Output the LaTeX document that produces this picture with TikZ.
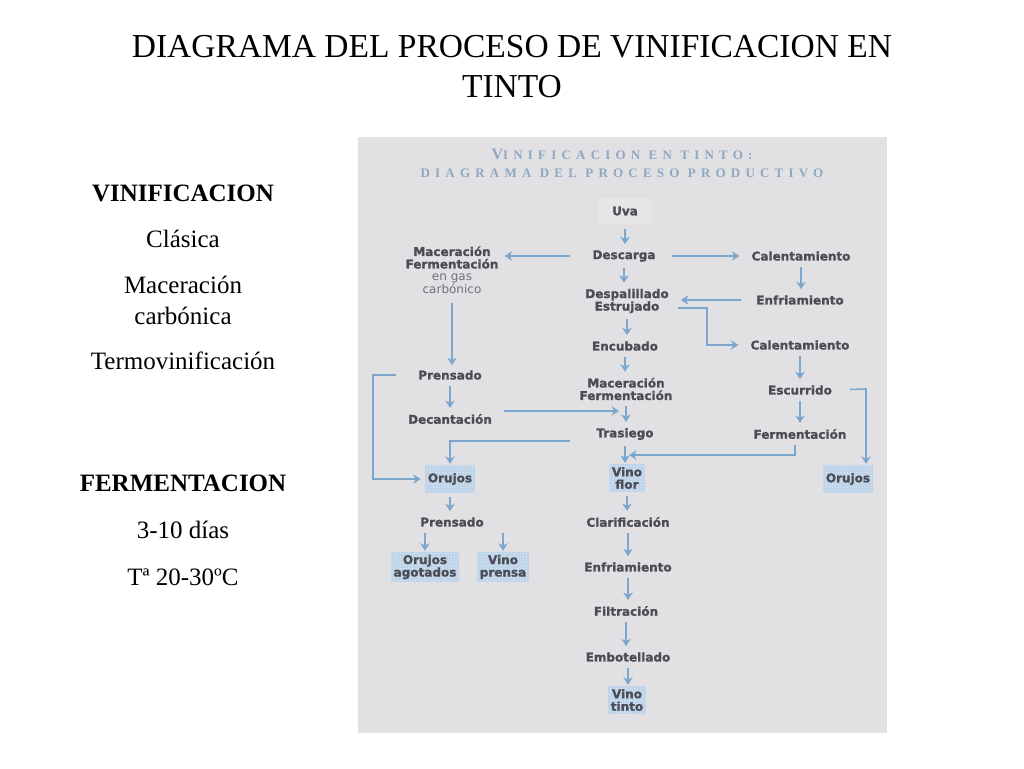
\documentclass[tikz,border=0pt]{standalone}
\usepackage{fontspec}
\setmainfont{Liberation Serif}
\newfontfamily\diagfont[BoldFeatures={FakeBold=1.3}]{DejaVu Sans}
\newfontfamily\panelfont[LetterSpace=40]{Liberation Serif}
\usepackage{tikz}
\usetikzlibrary{arrows.meta,positioning,calc,patterns}
\definecolor{panelgris}{HTML}{E1E1E3}
\definecolor{flechaazul}{HTML}{7BA7CF}
\definecolor{textogris}{HTML}{4C4C56}
\definecolor{suavegris}{HTML}{70707C}
\definecolor{cajaazul}{HTML}{BCD3E8}
\definecolor{titazul}{HTML}{8EA7C2}

\begin{document}
\begin{tikzpicture}[x=1pt,y=-1pt,
  proc/.style={font=\diagfont\bfseries\fontsize{12}{12.5}\selectfont, text=textogris, align=center, inner sep=2pt},
  caja/.style={proc, preaction={fill=cajaazul}, pattern=crosshatch dots, pattern color=white!55!cajaazul, inner sep=3pt, minimum height=28pt},
  izq/.style={font=\fontsize{25}{31}\selectfont, align=center, inner sep=0pt},
  flecha/.style={-{Stealth[length=7.5pt,width=9.5pt]}, draw=flechaazul, line width=1.6pt, shorten >=4pt, shorten <=4pt}]
  \fill[white] (0,0) rectangle (1024,768);
  \fill[panelgris] (358,137) rectangle (887,733);

  \node[font=\fontsize{33.5}{40}\selectfont, align=center] (titulo) at (512,67) {DIAGRAMA DEL PROCESO DE VINIFICACION EN\\TINTO};

  \node[izq, font=\fontsize{25}{31}\selectfont\bfseries] (vini) at (183,193) {VINIFICACION};
  \node[izq] (clasica) at (183,239) {Clásica};
  \node[izq] (maccarbo) at (183,300) {Maceración\\carbónica};
  \node[izq] (termo) at (183,361) {Termovinificación};
  \node[izq, font=\fontsize{25}{31}\selectfont\bfseries] (fermtit) at (183,483) {FERMENTACION};
  \node[izq] (dias) at (183,530) {3-10 días};
  \node[izq] (temp) at (183,577) {Tª 20-30ºC};

  \node[font=\panelfont\bfseries\fontsize{13}{13}\selectfont, text=titazul] (panel1) at (622,154) {{\fontsize{16}{16}\selectfont V}INIFICACION EN TINTO:};
  \node[font=\panelfont\bfseries\fontsize{13}{13}\selectfont, text=titazul] (panel2) at (622,173) {DIAGRAMA DEL PROCESO PRODUCTIVO};

  \node[caja, preaction={fill=white!12!panelgris}, pattern color=white!35!panelgris, minimum width=54pt, minimum height=27pt] (uva) at (625,211) {Uva};
  \node[proc] (descarga) at (624,256) {Descarga};
  \node[proc] (despal) at (627,301) {Despalillado\\Estrujado};
  \node[proc] (encub) at (625,346) {Encubado};
  \node[proc] (macferm) at (626,389) {Maceración\\Fermentación};
  \node[proc] (trasiego) at (625,434) {Trasiego};
  \node[caja] (vinoflor) at (627,478) {Vino\\flor};
  \node[proc] (clarif) at (628,522) {Clarificación};
  \node[proc] (enfr2) at (628,567) {Enfriamiento};
  \node[proc] (filtr) at (626,611) {Filtración};
  \node[proc] (embot) at (628,657) {Embotellado};
  \node[caja] (vinotinto) at (627,700) {Vino\\tinto};

  \node[proc] (maccarb) at (452,270) {Maceración\\Fermentación\\{\mdseries\color{suavegris}en gas}\\{\mdseries\color{suavegris}carbónico}};
  \node[proc] (prens1) at (450,375) {Prensado};
  \node[proc] (decant) at (450,419) {Decantación};
  \node[caja] (orujos1) at (450,479) {Orujos};
  \node[proc] (prens2) at (452,522) {Prensado};
  \node[caja] (orujosag) at (425,567) {Orujos\\agotados};
  \node[caja] (vinoprensa) at (503,567) {Vino\\prensa};

  \node[proc] (calent1) at (801,256) {Calentamiento};
  \node[proc] (enfr1) at (800,300) {Enfriamiento};
  \node[proc] (calent2) at (800,345) {Calentamiento};
  \node[proc] (escurr) at (800,390) {Escurrido};
  \node[proc] (fermen) at (800,434) {Fermentación};
  \node[caja] (orujos2) at (848,479) {Orujos};

  \coordinate (codo1) at (707,345);
  \coordinate (esqB) at (373,479);
  \coordinate (unionA) at (619,411);
  \coordinate (esqC) at (866,389);
  \coordinate (esqD) at (795,455);

  \draw[flecha] (uva.south) -- (uva.south |- descarga.north);
  \draw[flecha, shorten <=20pt] (descarga.west) -- (descarga.west -| maccarb.east);
  \draw[flecha, shorten <=14pt, shorten >=10pt] (descarga.east) -- (descarga.east -| calent1.west);
  \draw[flecha] (descarga.south) -- (descarga.south |- despal.north);
  \draw[flecha] (calent1.south) -- (calent1.south |- enfr1.north);
  \draw[flecha, shorten <=13pt, shorten >=10pt] (enfr1.west) -- (enfr1.west -| despal.east);
  \draw[flecha, shorten <=7pt, shorten >=10pt] ($(despal.east)+(0,7)$) -| (codo1) -- (calent2.west);
  \draw[flecha] (despal.south) -- (despal.south |- encub.north);
  \draw[flecha, shorten <=7pt, shorten >=3pt] (maccarb.south) -- (maccarb.south |- prens1.north);
  \draw[flecha] (encub.south) -- (encub.south |- macferm.north);
  \draw[flecha] (calent2.south) -- (calent2.south |- escurr.north);
  \draw[flecha] (prens1.south) -- (prens1.south |- decant.north);
  \draw[flecha, shorten <=20pt] (prens1.west) -| (esqB) -- (orujos1.west);
  \draw[flecha, shorten <=10pt, shorten >=0pt] ($(decant.east)+(0,-8)$) -- (unionA);
  \draw[flecha] (macferm.south) -- (macferm.south |- trasiego.north);
  \draw[flecha, shorten <=24pt, shorten >=1pt] ($(trasiego.west)+(0,7)$) -| (orujos1.north);
  \draw[flecha] (escurr.south) -- (escurr.south |- fermen.north);
  \draw[flecha, shorten <=16pt, shorten >=1pt] (escurr.east) -- (esqC) -- (esqC |- orujos2.north);
  \draw[flecha, shorten <=4pt, shorten >=2pt] (fermen.south -| esqD) -- (esqD) -- (esqD -| vinoflor.north);
  \draw[flecha, shorten >=1pt] (trasiego.south) -- (trasiego.south |- vinoflor.north);
  \draw[flecha] (vinoflor.south) -- (vinoflor.south |- clarif.north);
  \draw[flecha] (orujos1.south) -- (orujos1.south |- prens2.north);
  \draw[flecha, shorten >=1pt] (orujosag.north |- prens2.south) -- (orujosag.north);
  \draw[flecha, shorten >=1pt] (vinoprensa.north |- prens2.south) -- (vinoprensa.north);
  \draw[flecha] (clarif.south) -- (clarif.south |- enfr2.north);
  \draw[flecha] (enfr2.south) -- (enfr2.south |- filtr.north);
  \draw[flecha] (filtr.south) -- (filtr.south |- embot.north);
  \draw[flecha, shorten >=1pt] (embot.south) -- (embot.south |- vinotinto.north);
\end{tikzpicture}
\end{document}
